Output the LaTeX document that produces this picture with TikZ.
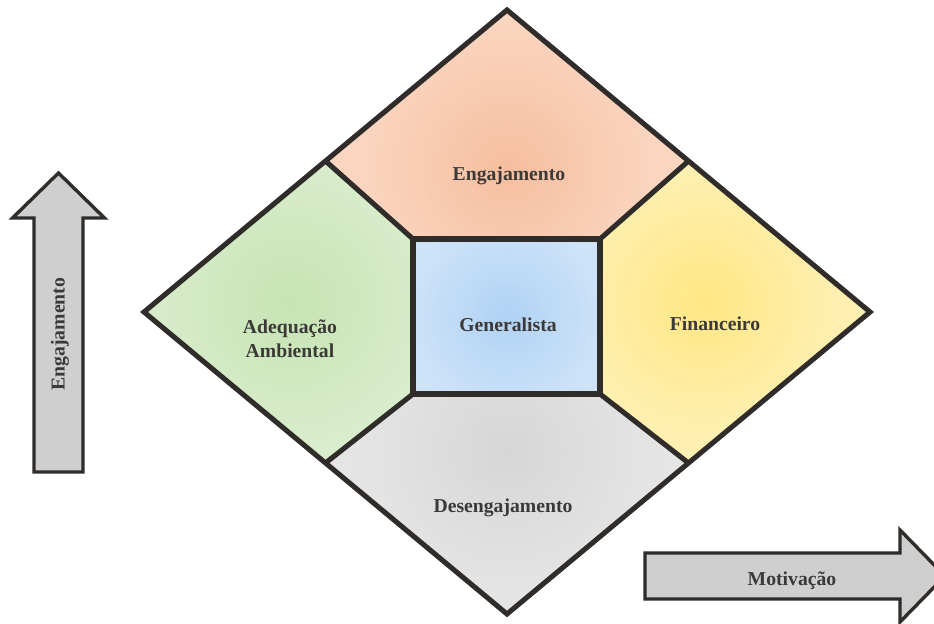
\documentclass[tikz,border=0pt]{standalone}
\usepackage{fontspec}
\setmainfont{Liberation Serif}
\usepackage{xcolor}

\definecolor{linha}{HTML}{2F2C2A}
\definecolor{setacinza}{HTML}{CFCFCF}
\definecolor{laranjaA}{HTML}{F6BE9E}
\definecolor{laranjaB}{HTML}{FDE4D6}
\definecolor{verdeA}{HTML}{C6E4B3}
\definecolor{verdeB}{HTML}{E3F2DA}
\definecolor{amareloA}{HTML}{FFE784}
\definecolor{amareloB}{HTML}{FFF5CE}
\definecolor{azulA}{HTML}{B0D2F4}
\definecolor{azulB}{HTML}{DFEDFA}
\definecolor{cinzaA}{HTML}{D6D6D6}
\definecolor{cinzaB}{HTML}{EDEDED}
\definecolor{texto}{HTML}{3C3A38}
\colorlet{laranjaM}{laranjaA!40!laranjaB}
\colorlet{verdeM}{verdeA!40!verdeB}
\colorlet{amareloM}{amareloA!40!amareloB}
\colorlet{azulM}{azulA!40!azulB}
\colorlet{cinzaM}{cinzaA!40!cinzaB}

\pgfdeclareradialshading{brilholaranja}{\pgfpoint{0bp}{0bp}}{color(0bp)=(laranjaA); color(18bp)=(laranjaM); color(50bp)=(laranjaB)}
\pgfdeclareradialshading{brilhoverde}{\pgfpoint{0bp}{0bp}}{color(0bp)=(verdeA); color(18bp)=(verdeM); color(50bp)=(verdeB)}
\pgfdeclareradialshading{brilhoamarelo}{\pgfpoint{0bp}{0bp}}{color(0bp)=(amareloA); color(18bp)=(amareloM); color(50bp)=(amareloB)}
\pgfdeclareradialshading{brilhoazul}{\pgfpoint{0bp}{0bp}}{color(0bp)=(azulA); color(18bp)=(azulM); color(50bp)=(azulB)}
\pgfdeclareradialshading{brilhocinza}{\pgfpoint{0bp}{0bp}}{color(0bp)=(cinzaA); color(18bp)=(cinzaM); color(50bp)=(cinzaB)}

\begin{document}
\begin{tikzpicture}[
            borda/.style={draw=linha, line width=3.6pt, line join=miter},
            seta/.style={draw=linha, line width=2.4pt, fill=setacinza, line join=miter},
            rotulo/.style={font=\fontsize{14}{17}\selectfont\bfseries, text=texto, align=center}
        ]
            \useasboundingbox (0,0) rectangle (23.35,15.575);

            % losango
            \coordinate (cima) at (12.675,15.325);
            \coordinate (dir) at (21.75,7.775);
            \coordinate (baixo) at (12.675,0.225);
            \coordinate (esq) at (3.6,7.775);
            \coordinate (mse) at (8.1375,11.55);
            \coordinate (msd) at (17.2125,11.55);
            \coordinate (mie) at (8.1375,4.0);
            \coordinate (mid) at (17.2125,4.0);
            % quadrado central
            \coordinate (qse) at (10.325,9.6);
            \coordinate (qsd) at (15.0,9.6);
            \coordinate (qid) at (15.0,5.725);
            \coordinate (qie) at (10.325,5.725);

            % preenchimentos
            \begin{scope}
                \clip (cima) -- (msd) -- (qsd) -- (qse) -- (mse) -- cycle;
                \shade[shading=brilholaranja] (12.7,11.4) circle (5);
            \end{scope}
            \begin{scope}
                \clip (mse) -- (qse) -- (qie) -- (mie) -- (esq) -- cycle;
                \shade[shading=brilhoverde] (7.25,8.0) circle (4.6);
            \end{scope}
            \begin{scope}
                \clip (msd) -- (dir) -- (mid) -- (qid) -- (qsd) -- cycle;
                \shade[shading=brilhoamarelo] (17.6,8.0) circle (4.6);
            \end{scope}
            \begin{scope}
                \clip (qie) -- (qid) -- (mid) -- (baixo) -- (mie) -- cycle;
                \shade[shading=brilhocinza] (12.675,4.3) circle (4.8);
            \end{scope}
            \begin{scope}
                \clip (qse) rectangle (qid);
                \shade[shading=brilhoazul] (12.66,7.66) circle (3.3);
            \end{scope}

            \draw[borda] (cima) -- (dir) -- (baixo) -- (esq) -- cycle;
            \draw[borda] (qse) rectangle (qid);
            \draw[borda] (mse) -- (qse);
            \draw[borda] (msd) -- (qsd);
            \draw[borda] (mie) -- (qie);
            \draw[borda] (mid) -- (qid);

            \node[rotulo] (engaj) at (12.725,11.175) {Engajamento};
            \node[rotulo] (adeq) at (7.25,7.1) {Adequação\\Ambiental};
            \node[rotulo] (geral) at (12.7,7.45) {Generalista};
            \node[rotulo] (financ) at (17.875,7.475) {Financeiro};
            \node[rotulo] (deseng) at (12.575,2.875) {Desengajamento};

            % setas dos eixos
            \draw[seta] (1.4625,11.25) -- (2.6125,10.125) -- (2.075,10.125) -- (2.075,3.775) -- (0.85,3.775) -- (0.85,10.125) -- (0.3125,10.125) -- cycle;
            \draw[seta] (16.125,1.75) -- (22.5,1.75) -- (22.5,2.325) -- (23.625,1.175) -- (22.5,0.025) -- (22.5,0.6) -- (16.125,0.6) -- cycle;

            \node[rotulo, rotate=90] (eixoy) at (1.5,7.225) {Engajamento};
            \node[rotulo] (eixox) at (19.8,1.06) {Motivação};
        \end{tikzpicture}
\end{document}
